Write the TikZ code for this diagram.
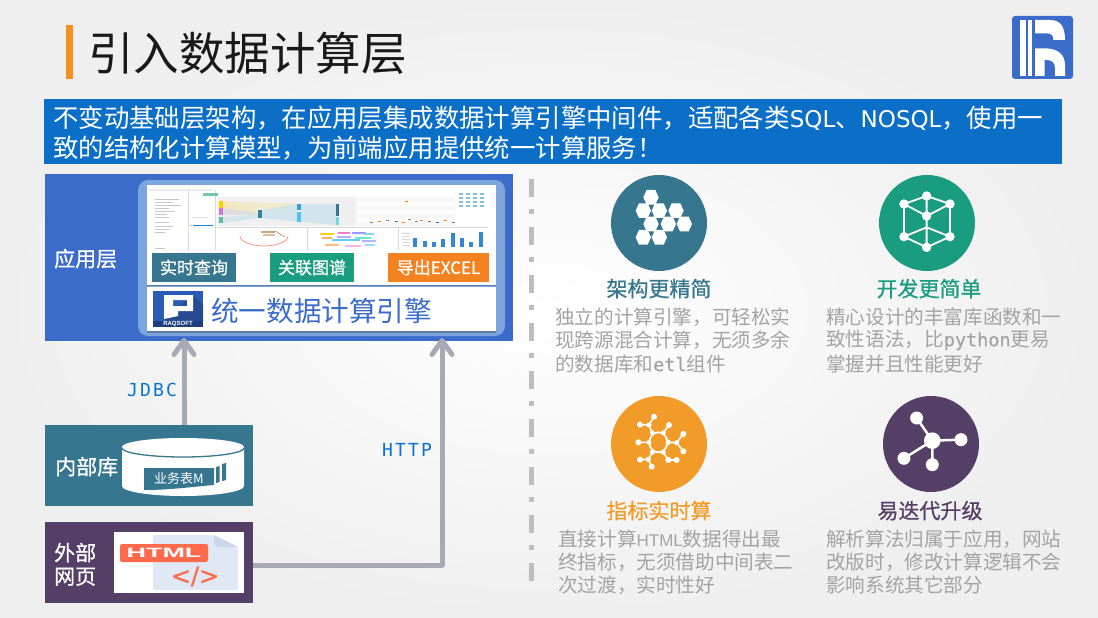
\documentclass[tikz,border=0pt]{standalone}
\usepackage{fontspec}
\usetikzlibrary{arrows.meta}
\setmainfont{Noto Sans CJK SC}
\newfontfamily\boldcjk[FakeBold=0.6]{Noto Sans CJK SC}
\newfontfamily\monof[FakeBold=0.3]{DejaVu Sans Mono}
\newfontfamily\bansans{DejaVu Sans}
\newfontfamily\monol[LetterSpace=12]{DejaVu Sans Mono}
\newfontfamily\latinb{Liberation Sans}
\newfontfamily\dejav[FakeBold=1]{DejaVu Sans}
\definecolor{appblue}{HTML}{3B6CC9}
\definecolor{panelblue}{HTML}{7BA5DC}
\definecolor{teal}{HTML}{37768F}
\definecolor{green}{HTML}{1A9C80}
\definecolor{amber}{HTML}{F19C28}
\definecolor{purple}{HTML}{553F66}
\definecolor{btnorange}{HTML}{F58220}
\definecolor{linkblue}{HTML}{0A74D2}
\definecolor{bodygrey}{HTML}{A3A3A3}
\definecolor{conngrey}{HTML}{A7AAB5}
\definecolor{coral}{HTML}{FF6A4D}
\definecolor{gridgrey}{HTML}{D8D8D8}
\definecolor{bgedge}{HTML}{EFEFEF}
\definecolor{panelshadow}{HTML}{5A7CA5}
\definecolor{logoblue}{HTML}{2A5BB5}
\definecolor{logodark}{HTML}{274A91}
\definecolor{logonavy}{HTML}{1D3E7A}
\definecolor{docblue}{HTML}{E0E8F6}
\definecolor{docfold}{HTML}{CBD6EC}
\definecolor{dashgrey}{HTML}{BEBEBE}
\definecolor{titlebarc}{HTML}{F5911E}
\definecolor{bannerc}{HTML}{0B6FC8}
\newcommand{\fsz}[1]{\fontsize{#1pt}{#1pt}\selectfont}
\tikzset{
  x=1pt,y=-1pt,
  txt/.style={inner sep=0pt,anchor=west,execute at begin node={\rule[-.12em]{0pt}{.92em}}},
  ctxt/.style={inner sep=0pt,anchor=center,execute at begin node={\rule[-.12em]{0pt}{.92em}}},
  block/.style={inner sep=0pt,anchor=north west,outer sep=0pt},
  body/.style={txt,text=bodygrey,font=\fsz{19.6}},
  head/.style={ctxt,font=\boldcjk\fsz{21}},
  side/.style={txt,text=white,font=\boldcjk\fsz{21}},
  btn/.style={block,text=white,font=\boldcjk\fsz{17},align=center},
  conn/.style={draw=conngrey,line width=5pt,line join=round,-{Straight Barb[round,length=14pt,width=20pt]}},
  proto/.style={ctxt,text=linkblue,font=\monol\fsz{18}},
}
\begin{document}
\begin{tikzpicture}
\useasboundingbox (0,0) rectangle (1098,618);
% background
\shade[inner color=white,outer color=bgedge] (0,0) rectangle (1098,618);
% title
\node[block,fill=titlebarc,minimum width=7pt,minimum height=54pt] (titlebar) at (66,25) {};
\node[txt,text=black!90,font=\fsz{45.5}] (title) at (88,54) {引入数据计算层};
% banner
\node[block,fill=bannerc,minimum width=1018pt,minimum height=65pt] (banner) at (44,99) {};
\node[txt,text=white,font=\fsz{25.4}] (ban1) at (53,118) {不变动基础层架构，在应用层集成数据计算引擎中间件，适配各类{\bansans\fsz{23}SQL}、{\bansans\fsz{23}NOSQL}，使用一};
\node[txt,text=white,font=\fsz{25.4}] (ban2) at (53,148) {致的结构化计算模型，为前端应用提供统一计算服务！};
% application layer
\node[block,fill=appblue,minimum width=468pt,minimum height=167pt] (appbox) at (45,174) {};
\node[side] (applabel) at (54,259) {应用层};
\node[block,fill=panelblue,rounded corners=10pt,minimum width=367pt,minimum height=156pt] (panel) at (138,180) {};
\fill[panelshadow] (147,186) rectangle (496,286);
\fill[panelshadow] (147,288) rectangle (496,332.5);
\node[block,fill=white,minimum width=349pt,minimum height=100pt] (shot) at (147,185) {};
\node[block,fill=white,minimum width=349pt,minimum height=44pt] (enginebox) at (147,287) {};
% dashboard thumbnail
\fill[black!6] (217,197) rectangle (355,226);
\fill[black!3] (355,197) rectangle (455,226);
\draw[gridgrey,line width=.6pt] (188,190) -- (188,250) (215,190) -- (215,250);
\fill[green!60] (203,193) rectangle (218,196);
\foreach \yy/\ww in {199/24,202/18,205/26,208/14,211/20,214/12,217/14,222/14,226/18,229/14,232/10,248/10}{
  \fill[black!22] (155,\yy) rectangle +(\ww,1);}
\fill[black!8] (148,189) rectangle (212,190.5);
\fill[black!12] (192,217) rectangle (208,218);
\fill[cyan!70!blue] (193,224.5) rectangle (213,226);
\fill[orange!70] (190,224.5) rectangle (191.5,226);
\fill[yellow!50!brown!35,opacity=.6] (223,201) -- (258,210) -- (258,213) -- (223,208) -- cycle;
\fill[yellow!50!brown!35,opacity=.6] (223,201) -- (297,204) -- (297,210) -- (223,208) -- cycle;
\fill[purple!25,opacity=.6] (223,208) -- (258,213) -- (258,215) -- (223,215) -- cycle;
\fill[cyan!40!teal!25,opacity=.8] (223,217) -- (258,215) -- (258,218) -- (223,223) -- cycle;
\fill[cyan!40!teal!25,opacity=.8] (262,210) -- (297,204) -- (297,222) -- (262,218) -- cycle;
\fill[cyan!40!teal!25,opacity=.8] (301,204) -- (336,204) -- (336,225) -- (301,222) -- cycle;
\fill[yellow!70!orange] (219,201) rectangle (223,208);
\fill[purple!50!magenta!60] (219,208) rectangle (223,215);
\fill[green!70] (219,217) rectangle (223,223);
\fill[teal!90!cyan] (258,210) rectangle (262,218);
\fill[cyan!60!teal] (297,204) rectangle (301,210);
\fill[blue!35!cyan!70] (297,212) rectangle (301,222);
\fill[teal] (336,204) rectangle (339,216);
\fill[green!60!cyan!60] (336,217) rectangle (339,225);
\foreach \yy in {202,210,218}{\fill[white] (358,\yy) rectangle (454,\yy+4);}
\foreach \xa/\ya/\cc in {370/222/gray,378/221/orange,386/220/gray,395/221/teal,402/222/orange,408/219/gray,415/221/gray,420/220/orange,428/221/gray,436/222/teal,444/220/orange,452/222/gray,405/201/orange}{
  \fill[\cc] (\xa,\ya) rectangle +(3,1.4);}
\foreach \xa in {459,466,473,480}{\foreach \ya in {193,197,201,205}{\fill[cyan!50!green!60] (\xa,\ya) rectangle +(4,1.5);}}
\draw[gridgrey,line width=.5pt] (217,227) -- (488,227) (307,227) -- (307,250) (398,227) -- (398,250);
\draw[coral!70,line width=.8pt] (240,236) arc[start angle=180,end angle=360,x radius=24pt,y radius=10pt];
\fill[brown!70] (261,231) rectangle (275,233);
\fill[brown!50] (263,234) rectangle (275,236);
\draw[brown,line width=.6pt] (275,231) -- (285,237);
\foreach \xa/\ya/\ww/\cc in {320/233/14/yellow!70!orange,338/232/12/magenta!50,352/232/14/blue!40,364/233/10/cyan!50,322/237/10/orange!60,337/236/14/blue!30,355/237/16/green!40!cyan!60,332/239/28/cyan!60,362/240/14/blue!30,325/244/14/orange!50,345/245/16/magenta!30,365/244/10/cyan!40}{
  \fill[\cc] (\xa,\ya) rectangle +(\ww,2);}
\foreach \xb/\tb in {413/237.7,422.5/241,432/242,441/239.3,450.5/233.3,460/237.7,469/241.7,478.5/231.7}{
  \fill[cyan!60!blue!85] (\xb,\tb) rectangle (\xb+4,247);}
\foreach \yy in {233,236,239,242,245}{\fill[gridgrey] (402,\yy) rectangle +(8,.7);}
% buttons
\node[btn,fill=teal,minimum width=84pt,minimum height=29pt] (b1) at (152,253) {实时查询};
\node[btn,fill=green,minimum width=84pt,minimum height=29pt] (b2) at (270,253) {关联图谱};
\node[btn,fill=btnorange,minimum width=101pt,minimum height=29pt] (b3) at (388,253) {导出EXCEL};
% raqsoft logo
\fill[logoblue] (153,291) rectangle (203,327);
\fill[logodark] (193,295) -- (203,305) -- (203,321) -- (164,321) -- (164,319) -- cycle;
\fill[logonavy] (153,321) rectangle (203,327);
\fill[white,even odd rule] (164,295) -- (193,295) -- (193,311) -- (178,311) -- (178,316) -- (164,319) -- cycle
  (173,300) rectangle (187,306);
\node[ctxt,text=white,font=\latinb\bfseries\fsz{6}] (raq) at (178,324) {RAQSOFT};
\node[txt,text=appblue,font=\fsz{27.6}] (engine) at (211,311) {统一数据计算引擎};
% internal DB
\node[block,fill=teal,minimum width=208pt,minimum height=81pt] (dbbox) at (45,425) {};
\node[side] (dblabel) at (55,467) {内部库};
\fill[white] (122,447) -- (122,486) arc[start angle=180,end angle=360,x radius=61pt,y radius=10pt] -- (244,447) -- cycle;
\fill[white] (183,447) ellipse[x radius=61pt,y radius=9pt];
\draw[teal,line width=1.3pt] (122,448) arc[start angle=180,end angle=360,x radius=61pt,y radius=9pt];
\fill[teal] (144,468) -- (214,468) -- (214,485) .. controls (190,487) and (170,490) .. (144,490) -- cycle;
\fill[teal] (216,467) -- (219.5,466) -- (219.5,482) -- (216,483) -- cycle;
\fill[teal] (222,464) -- (226,463) -- (226,480) -- (222,481) -- cycle;
\node[ctxt,text=white,font=\fsz{13}] (tbl) at (179,479) {业务表M};
% external web page
\node[block,fill=purple,minimum width=208pt,minimum height=81pt] (webbox) at (45,522) {};
\node[side] (weba) at (54,553) {外部};
\node[side] (webb) at (54,577) {网页};
\node[block,fill=white,minimum width=130pt,minimum height=61pt] (webinner) at (114,532) {};
\fill[docblue,rounded corners=2pt] (153,535) -- (214,535) -- (238,547) -- (238,590) -- (153,590) -- cycle;
\fill[docfold] (214,535) -- (238,547) -- (218,547) -- (214,544) -- cycle;
\node[block,fill=coral,rounded corners=2pt,minimum width=88pt,minimum height=18pt] (badge) at (120,544) {};
\node[ctxt,text=white,font=\latinb\bfseries\fsz{13.5}] (htmltxt) at (164,553) {\scalebox{2}[1]{HTML}};
\node[ctxt,text=coral,font=\dejav\fsz{24}] (code) at (195,576) {</>};
% connectors
\coordinate (tipa) at (184,338);
\coordinate (tipb) at (442,338);
\coordinate (elbow) at (442,565);
\draw[conn] (tipa |- dbbox.north) -- (tipa);
\draw[conn] (webbox.east |- elbow) -- (elbow) -- (tipb);
\node[proto] (jdbc) at (152,390) {JDBC};
\node[proto] (http) at (407,450) {HTTP};
% divider
\draw[dashgrey,line width=4.5pt,dash pattern=on 18pt off 12pt on 5pt off 13pt] (531.5,179) -- (531.5,592);
% icon 1
\node[circle,fill=teal,minimum size=96pt,inner sep=0pt] (ic1) at (659,223) {};
\begin{scope}[shift={(600,170)},x=.3333pt,y=-.3333pt]
\foreach \hx/\hy in {153/82,130/122,178/122,228/122,153/162,205/162,253/162,130/202,178/202}{
  \fill[white] (\hx-23,\hy) -- (\hx-13,\hy-22) -- (\hx+13,\hy-22) -- (\hx+23,\hy) -- (\hx+13,\hy+22) -- (\hx-13,\hy+22) -- cycle;}
\end{scope}
% icon 2
\node[circle,fill=green,minimum size=96pt,inner sep=0pt] (ic2) at (927,223) {};
\begin{scope}[shift={(600,170)},x=.3333pt,y=-.3333pt]
\coordinate (t) at (980,78); \coordinate (l) at (912,102); \coordinate (r) at (1050,102);
\coordinate (c) at (980,138); \coordinate (bl) at (912,200); \coordinate (br) at (1050,200);
\coordinate (bt) at (980,232); \coordinate (m) at (980,172);
\draw[white,line width=1.8pt] (t)--(l)--(c)--(r)--(t)--(c)--(bt) (l)--(bl)--(bt)--(br)--(r) (bl)--(m)--(br);
\foreach \p in {t,l,r,c,bl,br,bt}{\fill[white] (\p) circle[radius=4.7pt];}
\end{scope}
% icon 3
\node[circle,fill=amber,minimum size=96pt,inner sep=0pt] (ic3) at (659,444) {};
\begin{scope}[shift={(600,390)},x=.3333pt,y=-.3333pt]
\draw[white,line width=1.8pt] (175,157) ellipse[x radius=9pt,y radius=10pt];
\draw[white,line width=1.6pt] (157,128)--(147,105)--(162,80) (147,105)--(120,104)
  (190,128)--(207,105) (203,157)--(230,158)--(250,132) (230,158)--(250,184)
  (148,157)--(115,157) (157,187)--(145,208)--(120,209) (145,208)--(155,230)
  (190,187)--(205,210)--(230,210);
\foreach \px/\py/\pr in {162/80/3,120/104/3,147/105/2.6,207/105/3,250/132/3,115/157/3,250/184/3,230/158/2.6,120/209/3,155/230/3,145/208/2.6,205/210/3,230/210/3,157/128/2.4,190/128/2.4,205/157/2.6,190/187/2.4,157/187/2.4,147/157/2.4}{
  \fill[white] (\px,\py) circle[radius=\pr pt];}
\end{scope}
% icon 4
\node[circle,fill=purple,minimum size=96pt,inner sep=0pt] (ic4) at (931,444) {};
\begin{scope}[shift={(600,390)},x=.3333pt,y=-.3333pt]
\draw[white,line width=2.5pt] (997,152)--(950,84) (997,152)--(1083,149) (997,152)--(912,205) (997,152)--(997,224);
\fill[white] (997,152) circle[radius=8.3pt];
\foreach \px/\py in {950/84,1083/149,912/205,997/224}{\fill[white] (\px,\py) circle[radius=6.5pt];}
\end{scope}
% feature text
\node[head,text=teal] (h1) at (659,289) {架构更精简};
\node[body] (t11) at (555,317) {独立的计算引擎，可轻松实};
\node[body] (t12) at (555,340) {现跨源混合计算，无须多余};
\node[body] (t13) at (555,364) {的数据库和{\monof\fsz{18.5}etl}组件};
\node[head,text=green] (h2) at (929,289) {开发更简单};
\node[body] (t21) at (826,317) {精心设计的丰富库函数和一};
\node[body] (t22) at (826,340) {致性语法，比{\monof\fsz{18.5}python}更易};
\node[body] (t23) at (826,364) {掌握并且性能更好};
\node[head,text=amber] (h3) at (659,511) {指标实时算};
\node[body] (t31) at (558,539) {直接计算{\latinb\fsz{17}HTML}数据得出最};
\node[body] (t32) at (558,562) {终指标，无须借助中间表二};
\node[body] (t33) at (558,585) {次过渡，实时性好};
\node[head,text=purple] (h4) at (930,511) {易迭代升级};
\node[body] (t41) at (826,539) {解析算法归属于应用，网站};
\node[body] (t42) at (826,562) {改版时，修改计算逻辑不会};
\node[body] (t43) at (826,585) {影响系统其它部分};
% corner logo
\node[block,fill=appblue,rounded corners=3pt,minimum width=61pt,minimum height=63pt] (rlogo) at (1012,16) {};
\begin{scope}[shift={(1000,5)},x=.3333pt,y=-.3333pt]
\fill[white] (60,45) rectangle (78,213);
\fill[white] (84,45) rectangle (97,213);
\fill[white] (105,45) -- (150,45) .. controls (185,45) and (195,70) .. (195,105) -- (160,105) .. controls (160,92) and (155,85) .. (140,85) -- (105,85) -- cycle;
\fill[white] (105,130) -- (140,130) .. controls (175,132) and (195,150) .. (195,180) -- (195,213) -- (165,213) -- (165,190) .. controls (165,172) and (155,165) .. (140,165) -- (134,165) -- (134,213) -- (105,213) -- cycle;
\end{scope}
\end{tikzpicture}
\end{document}
